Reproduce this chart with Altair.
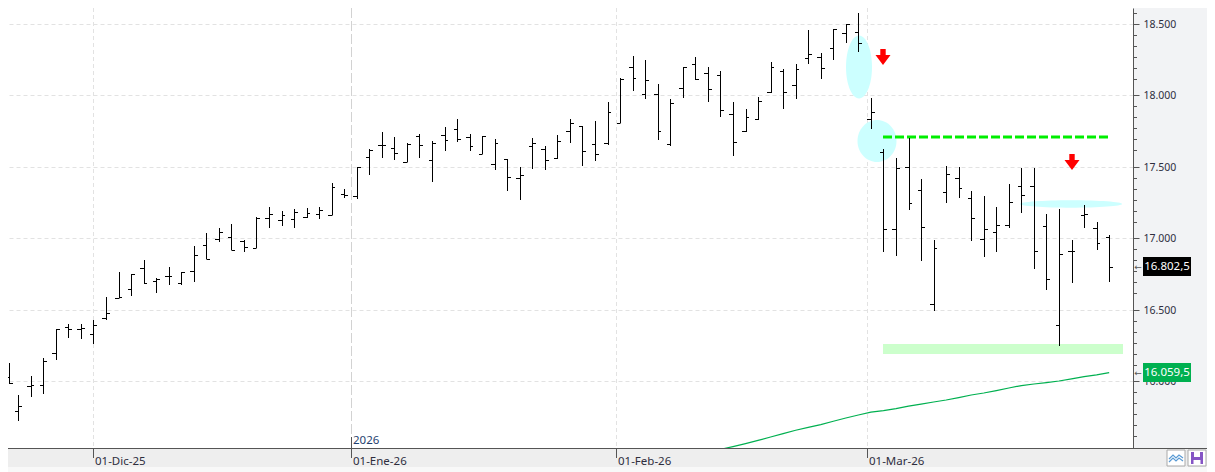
import altair as alt
import pandas as pd

# OHLC, one bar per session. The first bar sits a little right of its slot, the page margin would cut it
bar_x = [0.25] + list(range(1, 89))
highs = [16125, 15903, 16036, 16160, 16365, 16398, 16398, 16428, 16589, 16764,
         16752, 16848, 16720, 16799, 16766, 16946, 17035, 17070, 17098, 16990,
         17147, 17217, 17189, 17205, 17210, 17217, 17385, 17343, 17499, 17627,
         17742, 17707, 17665, 17728, 17683, 17777, 17833, 17730, 17716, 17693,
         17555, 17499, 17700, 17644, 17721, 17833, 17784, 17821, 17954, 18124,
         18276, 18248, 18080, 17973, 18197, 18267, 18197, 18169, 17952, 17903,
         17987, 18232, 18183, 18218, 18458, 18295, 18463, 18503, 18575, 17980,
         17623, 17560, 17704, 17413, 16988, 17506, 17497, 17329, 17294, 17217,
         17378, 17490, 17490, 17168, 17203, 16988, 17231, 17112, 17023]
lows = [15978, 15723, 15891, 15912, 16150, 16304, 16297, 16262, 16430, 16580,
        16598, 16678, 16619, 16675, 16675, 16696, 16853, 16976, 16916, 16906,
        16934, 17074, 17088, 17074, 17144, 17137, 17163, 17284, 17277, 17445,
        17564, 17550, 17532, 17564, 17396, 17613, 17676, 17613, 17588, 17480,
        17333, 17270, 17487, 17480, 17555, 17669, 17508, 17543, 17655, 17805,
        18033, 17977, 17690, 17648, 17984, 18106, 17956, 17849, 17578, 17742,
        17830, 18015, 17907, 17977, 18222, 18117, 18251, 18367, 18307, 17768,
        16906, 16878, 17201, 16843, 16493, 17249, 17284, 16983, 16871, 16906,
        17074, 17179, 16787, 16640, 16248, 16689, 17074, 16920, 16696]
opens = [16029, 15789, 15966, 15971, 16195, 16377, 16365, 16328, 16442, 16580,
         16643, 16790, 16699, 16734, 16689, 16769, 16956, 16993, 17007, 16979,
         16934, 17140, 17126, 17133, 17147, 17168, 17165, 17310, 17298, 17567,
         17651, 17630, 17536, 17714, 17546, 17721, 17763, 17707, 17592, 17518,
         17555, 17422, 17644, 17623, 17564, 17749, 17784, 17658, 17669, 17805,
         18197, 18008, 18008, 17662, 18050, 18218, 18155, 18141, 17868, 17749,
         17837, 18022, 18173, 18073, 18260, 18266, 18330, 18435, 18442, 17833,
         17602, 17063, 17497, 17336, 16538, 17322, 17420, 17280, 16993, 17042,
         17093, 17364, 17364, 17086, 16391, 16909, 17165, 17070, 17007]
closes = [15989, 15824, 15971, 16139, 16365, 16363, 16370, 16391, 16475, 16587,
          16750, 16689, 16713, 16734, 16764, 16881, 16852, 17042, 16920, 16939,
          17140, 17168, 17161, 17182, 17175, 17196, 17357, 17305, 17497, 17616,
          17651, 17595, 17660, 17653, 17669, 17686, 17697, 17644, 17714, 17665,
          17427, 17441, 17665, 17546, 17679, 17805, 17609, 17588, 17882, 18113,
          18120, 18106, 17749, 17945, 18197, 18117, 18043, 17896, 17672, 17847,
          17959, 18197, 18022, 18187, 18288, 18190, 18463, 18501, 18365, 17882,
          17063, 17490, 17245, 17077, 16930, 17450, 17350, 17140, 17063, 17093,
          17252, 17301, 16909, 16713, 16888, 16909, 17168, 16965, 16802.5]

# moving average, from session 57 on
ma_x = list(range(57, 89))
ma_values = [15522, 15542, 15563, 15585, 15609, 15633, 15656, 15676, 15696, 15719,
             15742, 15763, 15783, 15794, 15808, 15825, 15839, 15854, 15868, 15885,
             15903, 15917, 15934, 15952, 15969, 15980, 15990, 16001, 16016, 16032,
             16044, 16059.5]

month_pos = [6.97, 27.54, 48.67, 68.69]
month_labels = ["01-Dic-25", "01-Ene-26", "01-Feb-26", "01-Mar-26"]
major_ticks = [16000, 16500, 17000, 17500, 18000, 18500]
minor_ticks = [15923, 15846, 15769, 15692, 15615,
               16423, 16346, 16269, 16192, 16115,
               16923, 16846, 16769, 16692, 16615,
               17423, 17346, 17269, 17192, 17115,
               17923, 17846, 17769, 17692, 17615,
               18423, 18346, 18269, 18192, 18115, 18577]

# annotations drawn on the chart: x in sessions, y in price
ellipse_x = [68.04, 69.5, 84.95]
ellipse_y = [18197, 17682, 17243]
ellipse_radius = [(13, 31.5), (19.5, 21), (51, 3.7)]
arrow_x = [70, 85.05]
arrow_y = [18269, 17535]
resist_x = [70, 88]
resist_y = [17712, 17712]
zone_x = [70, 89.09]
zone_y = [16260, 16192]
last_prices = [16802.5, 16059.5]
last_labels = ["16.802,5", "16.059,5"]
last_colors = ["#000000", "#00b050"]

W = 1125
H = 440
RIGHT = 74  # svg may not be wider than the page body
FONT = "Noto Sans"
TEXT = "#2e2e3e"
GRID = "#e2e2e2"
X_DOMAIN = [0.187, 89.9]
Y_DOMAIN = [15532, 18612]

ohlc = pd.DataFrame({"x": bar_x, "high": highs, "low": lows, "open": opens, "close": closes})
ohlc["xl"] = ohlc["x"] - 0.28
ohlc["xr"] = ohlc["x"] + 0.3
ma = pd.DataFrame({"x": ma_x, "v": ma_values})
months = pd.DataFrame({"x": month_pos, "label": month_labels})
zone = pd.DataFrame({"x": [zone_x[0]], "x2": [zone_x[1]], "y": [zone_y[0]], "y2": [zone_y[1]]})
resist = pd.DataFrame({"x": resist_x, "y": resist_y})
last = pd.DataFrame({"y": last_prices, "label": last_labels, "color": last_colors})
last["top"] = last["y"] + 66
last["bottom"] = last["y"] - 68

x_scale = alt.Scale(domain=X_DOMAIN, round=True, nice=False, zero=False)
y_scale = alt.Scale(domain=Y_DOMAIN, round=True, nice=False, zero=False)
X = alt.X("x:Q", scale=x_scale, axis=None)
Y_AXIS = alt.Axis(values=major_ticks, orient="right", title=None, grid=True, gridDash=[4, 3],
                  gridColor=GRID, tickSize=6, tickColor="#555555", domainColor="#555555",
                  labelFont=FONT, labelFontSize=10.5, labelColor=TEXT, labelPadding=4,
                  labelExpr="replace(format(datum.value, ','), ',', '.')")
Y = alt.Y("y:Q", scale=y_scale, axis=Y_AXIS)


def price(field):
    return alt.Y(field, scale=y_scale, axis=Y_AXIS)


def ellipse_path(rx, ry):
    return f"M{-rx},0A{rx},{ry} 0 1,1 {rx},0A{rx},{ry} 0 1,1 {-rx},0Z"


# panels around the plot
strip = alt.Chart(pd.DataFrame({"a": [0]})).mark_rect(color="#eeeeee").encode(
    x=alt.value(0), x2=alt.value(W + RIGHT), y=alt.value(H), y2=alt.value(H + 19))
foot = alt.Chart(pd.DataFrame({"a": [0]})).mark_rect(color="#f8f8f8").encode(
    x=alt.value(0), x2=alt.value(W + RIGHT), y=alt.value(H + 19), y2=alt.value(H + 24))

month_grid = alt.Chart(months[months.label != "01-Ene-26"]).mark_rule(
    color=GRID, strokeDash=[4, 3], xOffset=0.5).encode(x=X, y=alt.value(0), y2=alt.value(H))
year_grid = alt.Chart(months[months.label == "01-Ene-26"]).mark_rule(
    color="#d2d2d2", strokeDash=[10, 3], xOffset=0.5).encode(x=X, y=alt.value(0), y2=alt.value(H - 10))

ellipses = [
    alt.Chart(pd.DataFrame({"x": [ex], "y": [ey]})).mark_point(
        shape=ellipse_path(*r), size=4, filled=True, fill="#ccffff", strokeWidth=0, opacity=1
    ).encode(x=X, y=Y)
    for ex, ey, r in zip(ellipse_x, ellipse_y, ellipse_radius)
]
arrows = alt.Chart(pd.DataFrame({"x": arrow_x, "y": arrow_y})).mark_point(
    shape="M-2.7,-8H2.7V-2H7.5L0,8L-7.5,-2H-2.7Z", size=4, filled=True, fill="#ff0000",
    strokeWidth=0, opacity=1).encode(x=X, y=Y)

zone_rect = alt.Chart(zone).mark_rect(color="#ccffcc").encode(
    x=X, x2="x2:Q", y=Y, y2="y2:Q")
resist_line = alt.Chart(resist).mark_line(
    color="#00ee00", strokeWidth=3, strokeDash=[9, 3]).encode(x=X, y=Y)

wicks = alt.Chart(ohlc).mark_rule(color="black", xOffset=0.5).encode(
    x=X, y=price("high:Q"), y2="low:Q")
open_ticks = alt.Chart(ohlc).mark_rule(color="black", xOffset=0.5, yOffset=0.5).encode(
    x=X, x2="xl:Q", y=price("open:Q"))
close_ticks = alt.Chart(ohlc).mark_rule(color="black", xOffset=0.5, yOffset=0.5).encode(
    x=X, x2="xr:Q", y=price("close:Q"))

# bottom axis
base_line = alt.Chart(pd.DataFrame({"a": [0]})).mark_rule(color="#555555", yOffset=0.5).encode(
    x=alt.value(0), x2=alt.value(W + RIGHT), y=alt.value(H))
month_ticks = alt.Chart(months).mark_rule(color="#555555", xOffset=0.5).encode(
    x=X, y=alt.value(H), y2=alt.value(H + 10))
year_tick = alt.Chart(months[months.label == "01-Ene-26"]).mark_rule(color="#555555", xOffset=0.5).encode(
    x=X, y=alt.value(H - 11), y2=alt.value(H))
month_text = alt.Chart(months).mark_text(
    align="left", baseline="alphabetic", dx=2, font=FONT, fontSize=11.5, color=TEXT
).encode(x=X, y=alt.value(H + 17), text="label:N")
year_text = alt.Chart(months[months.label == "01-Ene-26"]).mark_text(
    align="left", baseline="alphabetic", dx=2, font=FONT, fontSize=11.5, color="#1f3f6f", text="2026"
).encode(x=X, y=alt.value(H - 4))

# minor ticks of the price axis
minor = alt.Chart(pd.DataFrame({"y": minor_ticks})).mark_rule(color="#555555", yOffset=0.5).encode(
    x=alt.value(W), x2=alt.value(W + 4), y=Y)

# last price tags
tag_box = alt.Chart(last).mark_rect().encode(
    x=alt.value(W + 10), x2=alt.value(W + 58), y=price("top:Q"),
    y2="bottom:Q", color=alt.Color("color:N", scale=None))
tag_text = alt.Chart(last).mark_text(font=FONT, fontSize=11.5, color="white").encode(
    x=alt.value(W + 34), y=Y, text="label:N")
tag_arrow = alt.Chart(last).mark_text(font="DejaVu Sans", fontSize=9, color="#555555", text="←").encode(
    x=alt.value(W + 5), y=Y)

# the two small buttons in the corner, moved in a little to stay on the canvas
buttons = alt.Chart(pd.DataFrame({"x": [W + 34, W + 55], "x2": [W + 52, W + 73]})).mark_rect(
    fill="white", stroke="#aaaaaa").encode(
    x=alt.X("x:Q", scale=None), x2="x2:Q", y=alt.value(H + 2), y2=alt.value(H + 18))
zigzag = alt.Chart(pd.DataFrame({"a": [0]})).mark_point(
    shape="M-7,1L-3,-3L0,0L3,-3L7,0M-7,4L-3,0L0,3L3,0L7,3", size=4, stroke="#5a9bd5",
    strokeWidth=1.2, fill=None, opacity=1).encode(x=alt.value(W + 43), y=alt.value(H + 10))
save_icon = alt.Chart(pd.DataFrame({"a": [0]})).mark_point(
    shape="M-6,-6H6V6H-6ZM-3,-6V-1H3V-6ZM-3.5,2V6H3.5V2Z", size=4, filled=True, fill="#8555c5",
    strokeWidth=0, opacity=1).encode(x=alt.value(W + 64), y=alt.value(H + 10))

main = alt.layer(
    strip, foot, month_grid, year_grid, zone_rect, *ellipses, arrows, resist_line,
    wicks, open_ticks, close_ticks, base_line, month_ticks, year_tick, month_text,
    year_text, minor, tag_box, tag_text, tag_arrow, buttons, zigzag, save_icon
)

# the average gets its own unrounded scales, rounding makes the line wobble
ma_line = alt.Chart(ma).mark_line(color="#00b050", strokeWidth=1.2, clip=True).encode(
    x=alt.X("x:Q", scale=alt.Scale(domain=X_DOMAIN, nice=False, zero=False), axis=None),
    y=alt.Y("v:Q", scale=alt.Scale(domain=Y_DOMAIN, nice=False, zero=False), axis=None),
)

chart = alt.layer(main, ma_line).resolve_scale(x="independent", y="independent").properties(
    width=W, height=H, background="#f2f3f5",
    padding={"left": 0, "top": 0, "right": RIGHT, "bottom": 24},
    autosize=alt.AutoSizeParams(type="none")
).configure_view(fill="white", strokeWidth=0)

chart.save("out.html", embed_options={"renderer": "svg", "actions": False})
